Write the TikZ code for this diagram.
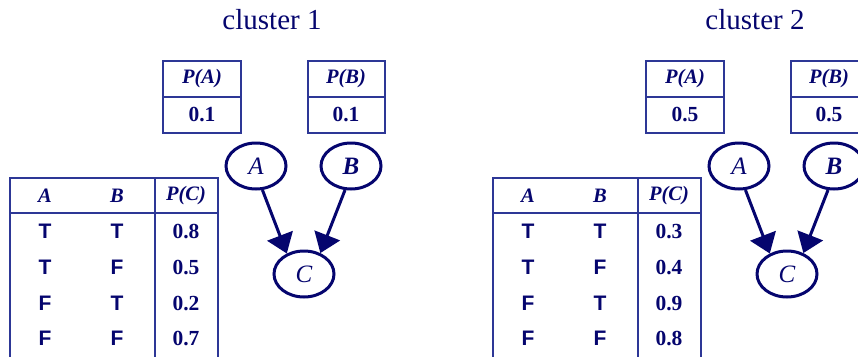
\documentclass[tikz,border=0pt]{standalone}
\usepackage{fontspec}
\setmainfont{Liberation Serif}
\newfontfamily\tfsans{Liberation Sans}
\usetikzlibrary{arrows.meta,shapes.geometric}

\definecolor{navy}{RGB}{5,5,110}
\definecolor{rulecol}{RGB}{45,55,150}

\tikzset{
	var/.style={ellipse, draw=navy, line width=3pt, minimum width=60pt, minimum height=46pt, inner sep=0pt, text=navy, font=\fontsize{25}{25}\selectfont\itshape},
	link/.style={draw=navy, line width=3pt, -{Triangle[length=19pt,width=27pt]}},
	grid/.style={draw=rulecol, line width=1.8pt},
	head/.style={text=navy, font=\fontsize{20.5}{20.5}\selectfont\bfseries\itshape},
	val/.style={text=navy, font=\fontsize{21.5}{21.5}\selectfont\bfseries},
	tf/.style={text=navy, font=\tfsans\fontsize{21}{21}\selectfont\bfseries},
	title/.style={text=navy, font=\fontsize{29}{29}\selectfont}
}

% one cluster: prefix, shift, number, P(A), P(B), then the four P(C) values
\newcommand{\bncluster}[9]{
	\begin{scope}[xshift=#2pt]
	\node[title] (#1title) at (272,20) {cluster #3};

	% prior tables
	\draw[grid] (163,61) rectangle (241,133) (163,97) -- (241,97);
	\draw[grid] (308,61) rectangle (385,133) (308,97) -- (385,97);
	\node[head] (#1pah) at (202,79) {P(A)};
	\node[val] (#1pav) at (202,115) {#4};
	\node[head] (#1pbh) at (346,79) {P(B)};
	\node[val] (#1pbv) at (346,115) {#5};

	% network
	\node[var] (#1A) at (256,166) {A};
	\node[var, font=\fontsize{25}{25}\selectfont\bfseries\itshape] (#1B) at (351,166) {B};
	\node[var] (#1C) at (304,274) {C};
	\draw[link] (#1A.-75) -- (#1C.130);
	\draw[link] (#1B.-104) -- (#1C.52);

	% conditional table
	\draw[grid] (10,362) -- (10,178) -- (218,178) -- (218,362);
	\draw[grid] (10,213) -- (218,213) (155,178) -- (155,362);
	\node[head] (#1ha) at (45,196) {A};
	\node[head] (#1hb) at (117,196) {B};
	\node[head] (#1hc) at (186,196) {P(C)};
	\foreach \ra/\rb/\rp/\ry in {T/T/#6/231, T/F/#7/267, F/T/#8/303, F/F/#9/338}{
		\node[tf] (#1a\ry) at (45,\ry) {\ra};
		\node[tf] (#1b\ry) at (117,\ry) {\rb};
		\node[val] (#1c\ry) at (186,\ry) {\rp};
	}
	\end{scope}
}

\begin{document}
\begin{tikzpicture}[x=1pt, y=-1pt]
\useasboundingbox (0,0) rectangle (858,356);

\bncluster{ka}{0}{1}{0.1}{0.1}{0.8}{0.5}{0.2}{0.7}
\bncluster{kb}{483}{2}{0.5}{0.5}{0.3}{0.4}{0.9}{0.8}
\end{tikzpicture}
\end{document}
